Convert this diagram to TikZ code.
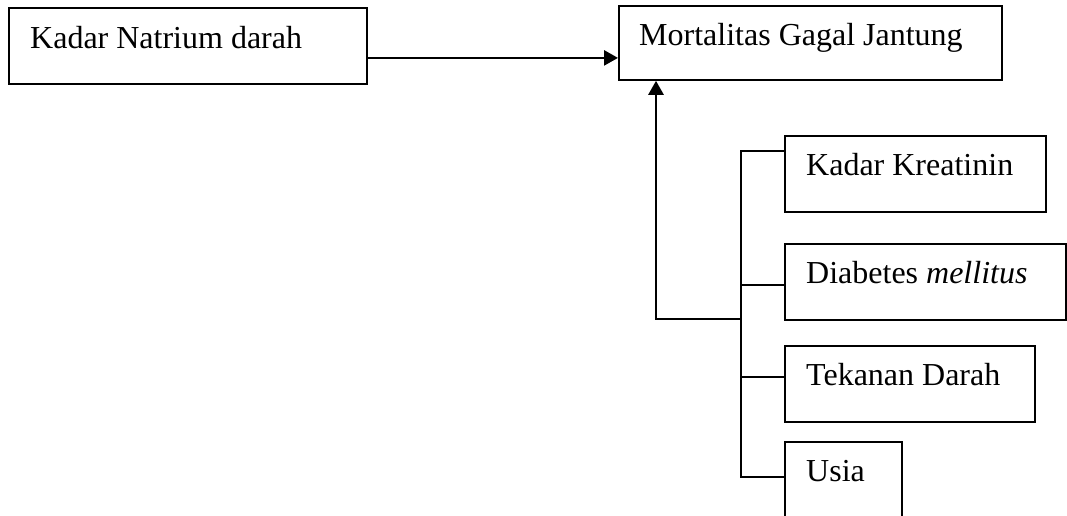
\documentclass[tikz,border=0pt]{standalone}
\usepackage{fontspec}
\setmainfont{Liberation Serif}
\usetikzlibrary{arrows.meta}
\begin{document}
\begin{tikzpicture}[x=1pt,y=-1pt,
  box/.style={draw,line width=1.8pt,rectangle,inner sep=0pt,anchor=north west},
  lbl/.style={anchor=base west,inner sep=0pt,font=\fontsize{32}{36}\selectfont},
  conn/.style={line width=1.8pt},
  arr/.style={line width=2.6pt,-{Triangle[length=14pt,width=15pt]}}]
\useasboundingbox (0,0) rectangle (1067,515);
% boxes
\node[box,minimum width=358pt,minimum height=76pt] (b1) at (8,7) {};
\node[box,minimum width=383pt,minimum height=74pt] (b2) at (618,5) {};
\node[box,minimum width=261pt,minimum height=76pt] (kk) at (784,135) {};
\node[box,minimum width=281pt,minimum height=76pt] (dm) at (784,243) {};
\node[box,minimum width=250pt,minimum height=76pt] (td) at (784,345) {};
\node[box,minimum width=117pt,minimum height=90pt] (us) at (784,441) {};
% labels
\node[lbl] (t1) at ([xshift=22pt,yshift=-41pt]b1.north west) {Kadar Natrium darah};
\node[lbl] (t2) at ([xshift=21pt,yshift=-40pt]b2.north west) {Mortalitas Gagal Jantung};
\node[lbl] (t3) at ([xshift=22pt,yshift=-40pt]kk.north west) {Kadar Kreatinin};
\node[lbl] (t4) at ([xshift=22pt,yshift=-40pt]dm.north west) {Diabetes \textit{mellitus}};
\node[lbl] (t5) at ([xshift=22pt,yshift=-40pt]td.north west) {Tekanan Darah};
\node[lbl] (t6) at ([xshift=22pt,yshift=-40pt]us.north west) {Usia};
% coordinates
\coordinate (busT) at (741,151);
\coordinate (busB) at (741,477);
\coordinate (j) at (656,319);
% connectors
\draw[arr] ([yshift=-12pt]b1.east) -- ([yshift=-12pt]b1.east -| b2.west);
\draw[conn] (kk.west |- busT) -- (busT) -- (busB) -- (us.west |- busB);
\draw[conn] ([yshift=-42pt]dm.north west) -- ([yshift=-42pt]dm.north west -| busT);
\draw[conn] ([yshift=-32pt]td.north west) -- ([yshift=-32pt]td.north west -| busT);
\draw[arr] (busT |- j) -- (j) -- (j |- b2.south);
\end{tikzpicture}
\end{document}
